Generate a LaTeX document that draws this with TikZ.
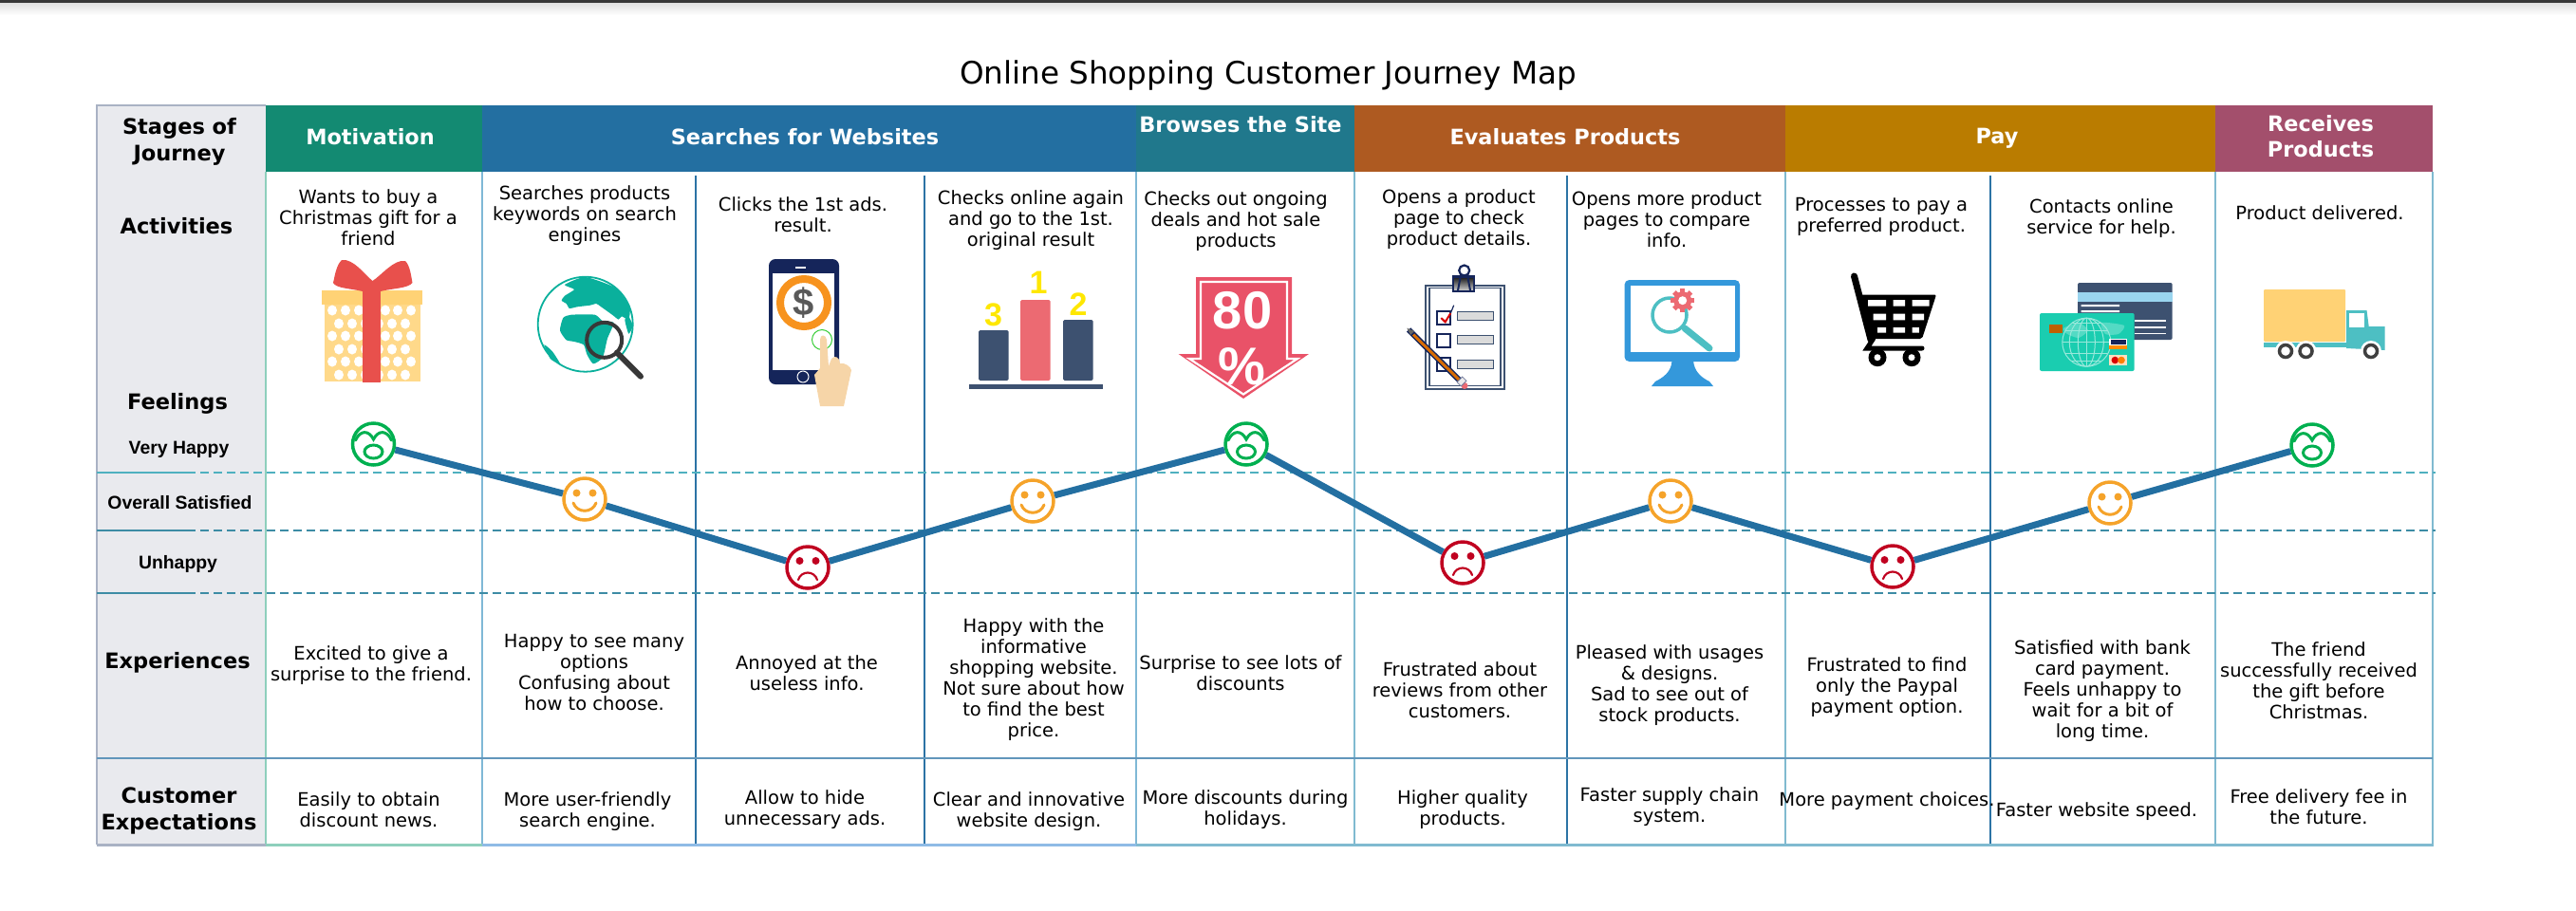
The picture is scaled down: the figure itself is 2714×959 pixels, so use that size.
\documentclass[tikz,border=0pt]{standalone}
\usepackage{fontspec}
\setmainfont{DejaVu Sans}
\newfontfamily\labelFont{Liberation Sans}
\tikzstyle{journeyMap} = [x = 1pt, y = -1pt]
\definecolor{panelGray}{HTML}{E9EAEE}
\definecolor{panelEdge}{HTML}{A9B2C4}
\definecolor{headGreen}{HTML}{138A72}
\definecolor{headBlue}{HTML}{236FA1}
\definecolor{headTeal}{HTML}{20788C}
\definecolor{headBrown}{HTML}{AE5A21}
\definecolor{headGold}{HTML}{BA7C00}
\definecolor{headRose}{HTML}{A34F6C}
\definecolor{paleGreen}{HTML}{8ECFBC}
\definecolor{paleBlue}{HTML}{7FB8D6}
\definecolor{paleCyan}{HTML}{80BAD0}
\definecolor{skyBlue}{HTML}{8FBBE6}
\definecolor{darkBlue}{HTML}{2C73A5}
\definecolor{dashTop}{HTML}{4FB0BF}
\definecolor{dashLow}{HTML}{3D8CA5}
\definecolor{faceGreen}{HTML}{00B050}
\definecolor{faceOrange}{HTML}{F5A32A}
\definecolor{faceRed}{HTML}{C00020}
\definecolor{slateBlue}{HTML}{3D5170}
\definecolor{salmon}{HTML}{EC6A72}
\definecolor{giftYellow}{HTML}{FFD275}
\definecolor{giftRed}{HTML}{E8504C}
\definecolor{globeTeal}{HTML}{0AB09C}
\definecolor{navy}{HTML}{15255A}
\definecolor{skin}{HTML}{F6D5A8}
\definecolor{coinOrange}{HTML}{F7931E}
\definecolor{signRed}{HTML}{E95268}
\definecolor{screenBlue}{HTML}{3498DB}
\definecolor{lensTeal}{HTML}{4DBFC3}
\definecolor{cardGreen}{HTML}{1ACDB0}
\definecolor{stripeBlue}{HTML}{9AD5EF}
\tikzstyle{bodyText} = [font=\fontsize{19.5}{22}\selectfont, align=center, inner sep=0]
\tikzstyle{headText} = [font=\fontsize{22.4}{27}\selectfont\bfseries, text=white, align=center, inner sep=0]
\tikzstyle{rowText} = [font=\fontsize{22.5}{28}\selectfont\bfseries, align=center, inner sep=0]
\tikzstyle{levelText} = [font=\labelFont\fontsize{19.4}{22}\selectfont\bfseries, inner sep=0]
\tikzstyle{faceRing} = [circle, draw, fill=white, line width=3.5, minimum size=44, inner sep=0]
\tikzstyle{faceLine} = [line width=3, line cap=round]
\tikzstyle{journeyLine} = [color=headBlue, line width=7]
\tikzstyle{levelDash} = [line width=1.4, dash pattern=on 9 off 5]
\newcommand{\headCell}[3]{\fill [#3] (#1,111) rectangle (#2,181);}
\newcommand{\veryHappyFace}[3]{
  \node [faceRing, draw=faceGreen] (#1) at (#2,#3) {};
  \draw [faceLine, color=faceGreen, shift={(#2,#3)}] (-19,-4) .. controls (-14,-15) and (-5,-15) .. (0,-5) .. controls (5,-15) and (14,-15) .. (19,-4);
  \draw [faceLine, color=faceGreen, shift={(#2,#3)}] (0,8) ellipse [x radius=9.5, y radius=7];
}
\newcommand{\happyFace}[3]{
  \node [faceRing, draw=faceOrange] (#1) at (#2,#3) {};
  \fill [faceOrange, shift={(#2,#3)}] (-8.5,-6.5) circle [radius=4] (8.5,-6.5) circle [radius=4];
  \draw [faceLine, color=faceOrange, shift={(#2,#3)}] (-12,4) .. controls (-8,15) and (8,15) .. (12,4);
}
\newcommand{\sadFace}[3]{
  \node [faceRing, draw=faceRed] (#1) at (#2,#3) {};
  \fill [faceRed, shift={(#2,#3)}] (-8.5,-7) circle [radius=4] (8.5,-7) circle [radius=4];
  \draw [faceLine, line width=2.2, color=faceRed, shift={(#2,#3)}] (-10,13) .. controls (-7,3) and (7,3) .. (10,13);
}
\begin{document}
\begin{tikzpicture}[journeyMap]
    \useasboundingbox (0,0) rectangle (2714,959);
    \fill [color=black!78] (0,0) rectangle (2714,3);
    \shade [top color=black!12, bottom color=white] (0,3) rectangle (2714,16);
    \node [font=\fontsize{32.6}{38}\selectfont, inner sep=0] (mapTitle) at (1336,80) {Online Shopping Customer Journey Map};
    % left panel and stage headers
    \fill [panelGray] (102,111) rectangle (280,890);
    \draw [color=panelEdge, line width=2] (102,890) -- (102,111) -- (280,111);
    \headCell{280}{508}{headGreen}
    \headCell{508}{1197}{headBlue}
    \headCell{1197}{1427}{headTeal}
    \headCell{1427}{1881}{headBrown}
    \headCell{1881}{2334}{headGold}
    \headCell{2334}{2563}{headRose}
    \node [rowText] (stagesLabel) at (189,149) {Stages of\\Journey};
    \node [headText] (headMotivation) at (390,144) {Motivation};
    \node [headText] (headSearches) at (848,144) {Searches for Websites};
    \node [headText] (headBrowses) at (1307,131) {Browses the Site};
    \node [headText] (headEvaluates) at (1649,144) {Evaluates Products};
    \node [headText] (headPay) at (2104,146) {Pay};
    \node [headText] (headReceives) at (2445,144) {Receives\\Products};
    % grid lines
    \foreach \xPos/\lineColor/\yStart/\lineSize in {280/paleGreen/181/2.7, 508/paleBlue/181/2.7, 733/darkBlue/185/2.2, 974/darkBlue/185/2.2, 1197/paleBlue/181/2.7, 1427/paleCyan/181/2.7, 1651/darkBlue/185/2.2, 1881/paleCyan/181/2.7, 2097/darkBlue/185/2.2, 2334/paleCyan/181/2.7, 2563/paleCyan/181/2.7} {
      \draw [color=\lineColor, line width=\lineSize] (\xPos,\yStart) -- (\xPos,890);
    }
    \foreach \yPos/\lineColor in {498/dashTop, 559/dashLow, 625/dashLow} {
      \draw [color=\lineColor, line width=1.4] (102,\yPos) -- (197,\yPos);
      \draw [levelDash, color=\lineColor] (197,\yPos) -- (2566,\yPos);
    }
    \draw [color=darkBlue!75, line width=2] (102,799) -- (2563,799);
    \draw [color=panelEdge, line width=3] (102,890) -- (280,890);
    \draw [color=paleGreen, line width=3] (280,890) -- (508,890);
    \draw [color=skyBlue, line width=3] (508,890) -- (1197,890);
    \draw [color=paleCyan, line width=3] (1197,890) -- (2564,890);
    % row labels
    \node [rowText] (activitiesLabel) at (186,238) {Activities};
    \node [rowText] (feelingsLabel) at (187,425) {Feelings};
    \node [levelText] (veryHappyLabel) at (188.5,474) {Very Happy};
    \node [levelText] (satisfiedLabel) at (189.5,530) {Overall Satisfied};
    \node [levelText] (unhappyLabel) at (187.5,594) {Unhappy};
    \node [rowText] (experiencesLabel) at (187,698) {Experiences};
    \node [rowText] (expectationsLabel) at (188.5,854) {Customer\\Expectations};
    % activities
    \node [bodyText] (activityGift) at (388,229) {Wants to buy a\\Christmas gift for a\\friend};
    \node [bodyText] (activitySearch) at (616,227) {Searches products\\keywords on search\\engines};
    \node [bodyText] (activityClick) at (846,226) {Clicks the 1st ads.\\result.};
    \node [bodyText] (activityAgain) at (1086,232) {Checks online again\\and go to the 1st.\\original result};
    \node [bodyText] (activityDeals) at (1302,233) {Checks out ongoing\\deals and hot sale\\products};
    \node [bodyText] (activityPage) at (1537,231) {Opens a product\\page to check\\product details.};
    \node [bodyText] (activityMore) at (1756,231) {Opens more product\\pages to compare\\info.};
    \node [bodyText] (activityPay) at (1982,228) {Processes to pay a\\preferred product.};
    \node [bodyText] (activityHelp) at (2214,230) {Contacts online\\service for help.};
    \node [bodyText] (activityDelivered) at (2444,224) {Product delivered.};
    % experiences
    \node [bodyText] (experienceGift) at (391,701) {Excited to give a\\surprise to the friend.};
    \node [bodyText] (experienceSearch) at (626,709) {Happy to see many\\options\\Confusing about\\how to choose.};
    \node [bodyText] (experienceClick) at (850,709) {Annoyed at the\\useless info.};
    \node [bodyText] (experienceAgain) at (1089,716) {Happy with the\\informative\\shopping website.\\Not sure about how\\to find the best\\price.};
    \node [bodyText] (experienceDeals) at (1307,709) {Surprise to see lots of\\discounts};
    \node [bodyText] (experiencePage) at (1538,727) {Frustrated about\\reviews from other\\customers.};
    \node [bodyText] (experienceMore) at (1759,722) {Pleased with usages\\\& designs.\\Sad to see out of\\stock products.};
    \node [bodyText] (experiencePay) at (1988,724) {Frustrated to find\\only the Paypal\\payment option.};
    \node [bodyText] (experienceHelp) at (2215,728) {Satisfied with bank\\card payment.\\Feels unhappy to\\wait for a bit of\\long time.};
    \node [bodyText] (experienceDelivered) at (2443,717) {The friend\\successfully received\\the gift before\\Christmas.};
    % expectations
    \node [bodyText] (expectGift) at (388.5,853) {Easily to obtain\\discount news.};
    \node [bodyText] (expectSearch) at (619,855) {More user-friendly\\search engine.};
    \node [bodyText] (expectClick) at (848,853) {Allow to hide\\unnecessary ads.};
    \node [bodyText] (expectAgain) at (1084,855) {Clear and innovative\\website design.};
    \node [bodyText] (expectDeals) at (1312,853) {More discounts during\\holidays.};
    \node [bodyText] (expectPage) at (1541,853) {Higher quality\\products.};
    \node [bodyText] (expectMore) at (1759,850) {Faster supply chain\\system.};
    \node [bodyText] (expectPay) at (1988,844) {More payment choices.};
    \node [bodyText] (expectHelp) at (2209,855) {Faster website speed.};
    \node [bodyText] (expectDelivered) at (2443,850) {Free delivery fee in\\the future.};
    % feelings
    \veryHappyFace{faceGift}{393.5}{468}
    \happyFace{faceSearch}{616}{526}
    \sadFace{faceClick}{851}{598}
    \happyFace{faceAgain}{1088}{528}
    \veryHappyFace{faceDeals}{1313}{468}
    \sadFace{facePage}{1541}{593}
    \happyFace{faceMore}{1760}{528}
    \sadFace{facePay}{1994}{597}
    \happyFace{faceHelp}{2223}{530}
    \veryHappyFace{faceDelivered}{2436}{469}
    \draw [journeyLine] (faceGift) -- (faceSearch);
    \draw [journeyLine] (faceSearch) -- (faceClick);
    \draw [journeyLine] (faceClick) -- (faceAgain);
    \draw [journeyLine] (faceAgain) -- (faceDeals);
    \draw [journeyLine] (faceDeals) -- (facePage);
    \draw [journeyLine] (facePage) -- (faceMore);
    \draw [journeyLine] (faceMore) -- (facePay);
    \draw [journeyLine] (facePay) -- (faceHelp);
    \draw [journeyLine] (faceHelp) -- (faceDelivered);
    % gift
    \fill [giftYellow!85!white] (342,321) rectangle (443,402);
    \fill [giftYellow] (339,306) rectangle (445,321);
    \foreach \yDot in {327,354,381} {
      \foreach \xDot in {350,364,378,406,419,433} {
        \fill [white] (\xDot,\yDot) ellipse [x radius=5, y radius=5.5];
      }
    }
    \foreach \yDot in {341,368,395} {
      \foreach \xDot in {357,371,385,399,413,427} {
        \fill [white] (\xDot,\yDot) ellipse [x radius=5, y radius=5.5];
      }
    }
    \fill [giftRed] (382,305) rectangle (401,403);
    \fill [giftRed] (392.5,296) .. controls (385,290) and (372,272) .. (360,274) .. controls (354,280) and (353,290) .. (351,298) .. controls (354,304) and (370,304) .. (382,307) -- (401,307) .. controls (412,304) and (430,304) .. (434.5,298) .. controls (433,290) and (432,280) .. (427,275) .. controls (415,273) and (402,290) .. (392.5,296) -- cycle;
    % globe and lens
    \draw [globeTeal, line width=1.8] (616.7,341.7) circle [radius=50];
    \fill [globeTeal] plot [smooth cycle, tension=.35] coordinates {(595,300) (616.7,292) (648.3,303.3) (663.3,323.3) (662.3,336.7) (655,333.3) (651.7,336.7) (645,331.7) (633.3,323.3) (628.3,320) (621.7,321.7) (608.3,323.3) (600,325) (596.7,320) (591.7,316.7) (595,311.7) (605,305)};
    \fill [globeTeal] plot [smooth cycle, tension=.35] coordinates {(590,348.3) (593.3,335) (601.7,331.7) (626.7,331.7) (635,338.3) (646.7,340) (640,356.7) (635,376.7) (625,383.3) (618.3,373.3) (615,363.3) (605,360) (596.7,358.3)};
    \fill [globeTeal] plot [smooth cycle, tension=.35] coordinates {(573.3,363.3) (581.7,370) (590,383.3) (580,378.3)};
    \fill [globeTeal] plot [smooth cycle, tension=.35] coordinates {(662,333) (666.7,343.3) (662.3,351.7) (658.3,337)};
    \draw [black!78, line width=4] (636.7,358.3) circle [radius=18.5];
    \draw [black!78, line width=6, line cap=round] (650,371.5) -- (675,396.7);
    % phone
    \fill [navy, rounded corners=7] (810,273) rectangle (884,405);
    \fill [white] (814,288) rectangle (879,390);
    \fill [white] (838,280.5) rectangle (849,282.5);
    \draw [white, line width=1] (846,397) circle [radius=6];
    \draw [coinOrange, line width=8] (847,319) circle [radius=25];
    \node [font=\labelFont\fontsize{40}{40}\selectfont\bfseries, text=black!65, inner sep=0] (coinSign) at (847,319) {\$};
    \draw [green!60!gray, line width=1] (866,358) circle [radius=10.5];
    \fill [skin] (864,358) .. controls (864,352) and (870,352) .. (871,358) -- (873,386) -- (876,378) .. controls (880,374) and (884,376) .. (885,383) .. controls (890,382) and (896,386) .. (897,390) -- (889,428) -- (864,428) -- (858,395) -- (864,388) -- cycle;
    % podium
    \foreach \xLeft/\yTop/\barColor in {1031/348/slateBlue, 1075/316/salmon, 1120/337/slateBlue} {
      \fill [\barColor, rounded corners=1.5] (\xLeft,\yTop) rectangle (\xLeft+31.5,401);
    }
    \fill [slateBlue] (1021,405) rectangle (1162,410);
    \node [font=\labelFont\fontsize{34}{34}\selectfont\bfseries, text=yellow!90!orange, inner sep=0] (podiumThird) at (1046.5,332) {3};
    \node [font=\labelFont\fontsize{34}{34}\selectfont\bfseries, text=yellow!90!orange, inner sep=0] (podiumFirst) at (1094,298) {1};
    \node [font=\labelFont\fontsize{34}{34}\selectfont\bfseries, text=yellow!90!orange, inner sep=0] (podiumSecond) at (1136,321) {2};
    % discount sign
    \fill [signRed] (1260,292) -- (1361,292) -- (1361,373) -- (1379,373) -- (1310,420) -- (1241.6,373) -- (1260,373) -- cycle;
    \draw [white, line width=2.2] (1265,297) -- (1356,297) -- (1356,378) -- (1367,378) -- (1310,415.5) -- (1253,378) -- (1265,378) -- cycle;
    \node [font=\labelFont\fontsize{56}{56}\selectfont\bfseries, text=white, inner sep=0] (signNumber) at (1309,327) {80};
    \node [font=\labelFont\fontsize{56}{56}\selectfont\bfseries, text=white, inner sep=0] (signPercent) at (1308,386) {\%};
    % clipboard
    \draw [slateBlue, line width=2] (1502,300.5) rectangle (1585,410);
    \draw [slateBlue, line width=1.5] (1506,303.5) rectangle (1581,406.5);
    \draw [navy, line width=2.2] (1542.7,285) circle [radius=5.5];
    \fill [navy] (1530,290) rectangle (1554.3,307.5);
    \shade [top color=black!85, bottom color=black!25] (1532,293) rectangle (1552,305);
    \draw [navy, line width=2] (1539,290) -- (1536,306) (1546,290) -- (1549,306);
    \foreach \yBox/\yBar in {327.5/328.5, 352/353.5, 377/379} {
      \draw [navy, line width=2] (1514,\yBox) rectangle +(14.3,14.3);
      \filldraw [fill=black!14, draw=slateBlue, line width=1] (1535,\yBar) rectangle +(38.7,9);
    }
    \draw [red!85!black, line width=2] (1518.3,335) -- (1522.7,339.3) -- (1528.3,330);
    \draw [navy, line width=1.2] (1528.3,330) -- (1531.7,321.7);
    \draw [navy, line width=6] (1484,347.5) -- (1538,401);
    \draw [orange!85!black, line width=3] (1489,352.5) -- (1538,401);
    \fill [black!60] (1482.3,345.7) -- (1490,349) -- (1486,353) -- cycle;
    \fill [salmon] (1543,406.5) circle [radius=3.5];
    \filldraw [fill=black!8, draw=navy!60, line width=.8, rotate around={45:(1540,402)}] (1536,399) rectangle (1544,405);
    % monitor
    \fill [screenBlue, rounded corners=5] (1711.5,295) rectangle (1833,381);
    \fill [white] (1718,301) rectangle (1827.5,371);
    \fill [screenBlue] (1761.5,380) .. controls (1761,392) and (1752,398) .. (1744,402) -- (1740,407) -- (1805,407) -- (1801,402) .. controls (1793,398) and (1785,392) .. (1784,380) -- cycle;
    \draw [lensTeal, line width=3.5] (1759,332) circle [radius=18];
    \draw [lensTeal, line width=7, line cap=round] (1775,346) -- (1801,367);
    \foreach \gearAngle in {0,45,...,135} {
      \fill [salmon, shift={(1772.7,316.7)}, rotate=\gearAngle] (-2.5,-12.5) rectangle (2.5,12.5);
    }
    \fill [salmon] (1772.7,316.7) circle [radius=9.5];
    \fill [white] (1772.7,316.7) circle [radius=4.5];
    % cart
    \draw [black, line width=7, line cap=round] (1953.5,291) -- (1971,358);
    \fill [black, rounded corners=2] (1958,310.5) -- (2040,310.5) -- (2025,357) -- (1971,357) -- cycle;
    \fill [white] (1968,316) rectangle (1987,322.7) (1994.5,316) rectangle (2007,322.7) (2014.6,316) rectangle (2032.5,322.7);
    \fill [white] (1973.6,330.7) rectangle (1987,337.3) (1994.5,330.7) rectangle (2007,337.3) (2014.6,330.7) rectangle (2027,337.3);
    \fill [white] (1978,345) rectangle (1987,350.7) (1994.5,345) rectangle (2007,350.7) (2014.6,345) rectangle (2021.8,350.7);
    \draw [black, line width=5, line cap=round] (1973.6,357) -- (1967,367) -- (2025,367);
    \foreach \xWheel in {1978,2014} {
      \fill [black] (\xWheel,376.7) circle [radius=9.5];
      \fill [white] (\xWheel,376.7) circle [radius=3.5];
    }
    % bank cards
    \fill [slateBlue, rounded corners=2] (2189,298) rectangle (2288.7,358);
    \fill [stripeBlue] (2189,307.7) rectangle (2288.7,318.3);
    \fill [white] (2192.7,321) rectangle (2233,323) (2192.7,327) rectangle (2233,329);
    \foreach \yLine in {337,344,350.5} {
      \fill [white] (2248.7,\yLine) rectangle (2282,\yLine+1.8);
    }
    \fill [cardGreen, rounded corners=2] (2149,330) rectangle (2248.7,391);
    \fill [white!25!cardGreen] plot [smooth cycle, tension=.4] coordinates {(2174,346) (2190,340) (2200,348) (2190,356) (2178,352)};
    \fill [white!25!cardGreen] plot [smooth cycle, tension=.4] coordinates {(2214,340) (2238,343) (2232,352) (2218,352)};
    \fill [orange!75!black] (2159.3,341.7) rectangle (2173.3,351);
    \begin{scope}[shift={(2198.3,360.7)}, color=white!55!cardGreen, line width=1]
      \draw (0,0) circle [radius=25.5];
      \draw (0,0) ellipse [x radius=9, y radius=25.5] (0,0) ellipse [x radius=18, y radius=25.5];
      \draw (0,-25.5) -- (0,25.5) (-25.5,0) -- (25.5,0) (-22,-12) -- (22,-12) (-22,12) -- (22,12) (-15,-20) -- (15,-20) (-15,20) -- (15,20);
    \end{scope}
    \fill [white] (2222.3,356.7) rectangle (2241,367.7);
    \fill [navy] (2223.5,358) rectangle (2240,363);
    \fill [orange!90!yellow] (2222.3,364) rectangle (2241,367.7);
    \fill [white!75!orange] (2222.3,374) rectangle (2241,385);
    \fill [red!85!black] (2228.3,379.5) circle [radius=3.8];
    \fill [orange] (2235,379.5) circle [radius=3.8];
    % truck
    \fill [lensTeal] (2385,361) rectangle (2472,366);
    \fill [lensTeal] (2472,327) -- (2493.5,327) -- (2495.7,344) -- (2512.5,344) -- (2512.5,369) -- (2472,367) -- cycle;
    \fill [white] (2475,329.5) rectangle (2491,345);
    \fill [giftYellow, rounded corners=1] (2385,305) rectangle (2471,360);
    \foreach \xWheel in {2408,2429.5,2498} {
      \fill [white] (\xWheel,370) circle [radius=11];
      \draw [black!75, line width=3.5] (\xWheel,370) circle [radius=6.5];
    }
\end{tikzpicture}
\end{document}
